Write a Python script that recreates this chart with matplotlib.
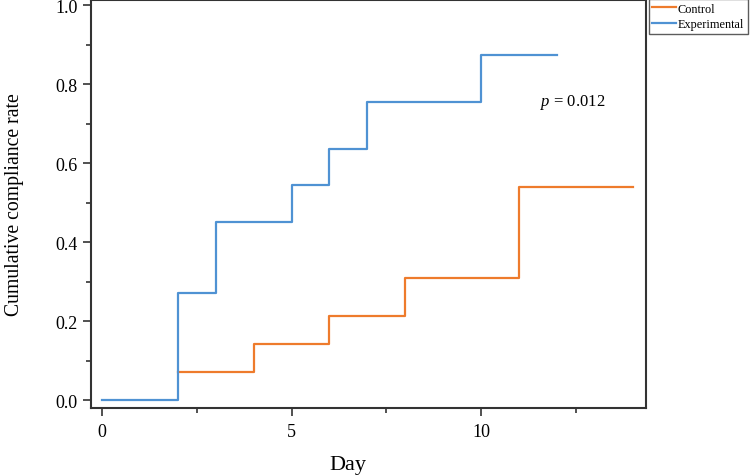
import matplotlib
matplotlib.use("Agg")
import matplotlib.pyplot as plt
from matplotlib.ticker import MultipleLocator

plt.rcParams['font.family'] = ['Liberation Serif', 'DejaVu Serif']
plt.rcParams['mathtext.fontset'] = 'custom'
plt.rcParams['mathtext.rm'] = 'Liberation Serif'
plt.rcParams['mathtext.it'] = 'Liberation Serif:italic'

# Data (step functions, value holds from each day onward)
exp_days = [0, 2, 3, 5, 6, 7, 10, 12]
exp_vals = [0.0, 0.27, 0.45, 0.545, 0.636, 0.755, 0.875, 0.875]
ctl_days = [2, 4, 6, 8, 11, 14]
ctl_vals = [0.07, 0.142, 0.212, 0.31, 0.54, 0.54]

c_orange = '#EE7B2C'
c_blue = '#4F92D3'

fig = plt.figure(figsize=(7.5, 4.77), dpi=100)
ax = fig.add_axes([91/750, 1 - 409/477, (646 - 91)/750, (409 - 1)/477])

ax.step(ctl_days, ctl_vals, where='post', color=c_orange, lw=1.6, label='Control')
ax.step(exp_days, exp_vals, where='post', color=c_blue, lw=1.6, label='Experimental')

ax.set_xlim(-0.29, 14.35)
ax.set_ylim(-0.02, 1.013)
ax.xaxis.set_major_locator(MultipleLocator(5))
ax.xaxis.set_minor_locator(MultipleLocator(2.5))
ax.yaxis.set_major_locator(MultipleLocator(0.2))
ax.yaxis.set_minor_locator(MultipleLocator(0.1))
ax.yaxis.set_major_formatter(plt.FuncFormatter(lambda v, p: f"{v:.1f}"))

for s in ax.spines.values():
    s.set_color('#333333')
    s.set_linewidth(1.5)
ax.tick_params(which='both', direction='out', color='#333333', width=1.2,
               top=False, right=False, labelsize=13)
ax.tick_params(which='major', length=6)
ax.tick_params(which='minor', length=3.5)
ax.tick_params(axis='x', pad=5)

ax.set_xlabel('Day', fontsize=16)
ax.xaxis.set_label_coords((348 - 91) / 555, (409 - 456) / 408)
ax.set_ylabel('Cumulative compliance rate', fontsize=14.2)
ax.yaxis.set_label_coords((24 - 91) / 555, 0.5)

ax.text(11.55, 0.755, r'$p$ = 0.012', fontsize=12, va='center', ha='left')

leg = fig.legend(loc='upper right', bbox_to_anchor=(748/750, 1.0), fontsize=8.8,
                 frameon=True, fancybox=False, handlelength=1.9,
                 borderpad=0.3, labelspacing=0.3, handletextpad=0.2,
                 borderaxespad=0)
leg.get_frame().set_edgecolor('#333333')
leg.get_frame().set_linewidth(1.0)

fig.savefig('out.png', dpi=100)
